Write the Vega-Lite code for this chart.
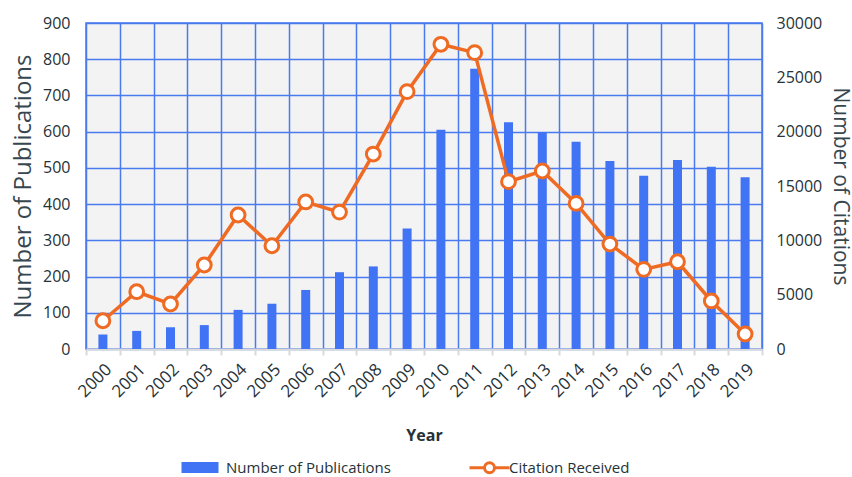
{
  "$schema": "https://vega.github.io/schema/vega-lite/v6.json",
  "width": 676,
  "height": 326,
  "autosize": {"type": "none"},
  "padding": {"left": 86, "top": 23, "right": 90, "bottom": 128},
  "background": "white",
  "config": {
    "view": {"stroke": "#4A7BEE", "strokeWidth": 1.5, "fill": "#F3F3F3"},
    "font": "Open Sans",
    "axis": {"labelColor": "#263238", "titleColor": "#37474F", "labelFontSize": 15, "titleFontWeight": "normal"}
  },
  "data": {
    "values": [
      {"year": "2000", "pubs": 40, "cites": 2600},
      {"year": "2001", "pubs": 50, "cites": 5270},
      {"year": "2002", "pubs": 60, "cites": 4140},
      {"year": "2003", "pubs": 66, "cites": 7730},
      {"year": "2004", "pubs": 108, "cites": 12330},
      {"year": "2005", "pubs": 125, "cites": 9500},
      {"year": "2006", "pubs": 163, "cites": 13530},
      {"year": "2007", "pubs": 212, "cites": 12600},
      {"year": "2008", "pubs": 228, "cites": 17940},
      {"year": "2009", "pubs": 333, "cites": 23680},
      {"year": "2010", "pubs": 605, "cites": 28040},
      {"year": "2011", "pubs": 774, "cites": 27270},
      {"year": "2012", "pubs": 626, "cites": 15400},
      {"year": "2013", "pubs": 599, "cites": 16380},
      {"year": "2014", "pubs": 572, "cites": 13400},
      {"year": "2015", "pubs": 519, "cites": 9660},
      {"year": "2016", "pubs": 478, "cites": 7330},
      {"year": "2017", "pubs": 522, "cites": 8030},
      {"year": "2018", "pubs": 503, "cites": 4420},
      {"year": "2019", "pubs": 474, "cites": 1380}
    ]
  },
  "encoding": {
    "x": {
      "field": "year",
      "type": "ordinal",
      "scale": {"paddingInner": 0, "paddingOuter": 0},
      "axis": {
        "title": "Year",
        "titleFontWeight": "bold",
        "titleFontSize": 16,
        "titleColor": "#263238",
        "titlePadding": 28,
        "labelAngle": -45,
        "labelFontSize": 17,
        "labelPadding": 6,
        "tickBand": "extent",
        "grid": true,
        "gridColor": "#4A7BEE",
        "gridWidth": 1.5,
        "gridOpacity": 1,
        "domainColor": "#D9D9D9",
        "domainWidth": 2,
        "tickColor": "#D9D9D9",
        "tickWidth": 2,
        "tickSize": 6
      }
    }
  },
  "layer": [
    {
      "mark": {"type": "bar", "size": 9},
      "encoding": {
        "y": {
          "field": "pubs",
          "type": "quantitative",
          "scale": {"domain": [0, 900]},
          "axis": {
            "title": "Number of Publications",
            "titleFontSize": 24,
            "titlePadding": 7,
            "labelFontSize": 16,
            "tickCount": 9,
            "grid": true,
            "gridColor": "#4A7BEE",
            "gridWidth": 1.5,
            "gridOpacity": 1,
            "domain": false,
            "ticks": false,
            "labelPadding": 16
          }
        },
        "color": {
          "datum": "Number of Publications",
          "type": "nominal",
          "scale": {"domain": ["Number of Publications", "Citation Received"], "range": ["#4173F5", "#EF6A22"]},
          "legend": {
            "orient": "none",
            "legendX": 120,
            "legendY": 437,
            "direction": "horizontal",
            "title": null,
            "labelFontSize": 15,
            "labelColor": "#263238",
            "labelLimit": 400,
            "symbolSize": 100,
            "symbolType": "M-6.4,-1.1H1V1.1H-6.4Z",
            "labelOffset": 5,
            "columnPadding": 72,
            "encode": {
              "symbols": {
                "update": {
                  "shape": {"signal": "datum.value === 'Number of Publications' ? 'M-6.4,-1.1H1V1.1H-6.4Z' : 'M-5.4,0H-2.4M-0.4,0H2.6M-2.4,0A1,1 0 1,0 -0.4,0A1,1 0 1,0 -2.4,0'"},
                  "fillOpacity": {"signal": "datum.value === 'Number of Publications' ? 1 : 0"},
                  "stroke": {"signal": "datum.value === 'Number of Publications' ? 'transparent' : '#EF6A22'"},
                  "strokeWidth": {"value": 3},
                  "opacity": {"value": 1}
                }
              }
            }
          }
        }
      }
    },
    {
      "mark": {"type": "line", "color": "#EF6A22", "strokeWidth": 3.5, "point": {"filled": true, "fill": "white", "stroke": "#EF6A22", "strokeWidth": 3, "size": 190, "opacity": 1}},
      "encoding": {
        "y": {
          "field": "cites",
          "type": "quantitative",
          "scale": {"domain": [0, 30000]},
          "axis": {
            "orient": "right",
            "title": "Number of Citations",
            "titleFontSize": 21,
            "titlePadding": 8,
            "labelFontSize": 16,
            "format": "d",
            "tickCount": 6,
            "grid": false,
            "domain": false,
            "ticks": false,
            "labelPadding": 14
          }
        }
      }
    }
  ],
  "resolve": {"scale": {"y": "independent"}}
}
